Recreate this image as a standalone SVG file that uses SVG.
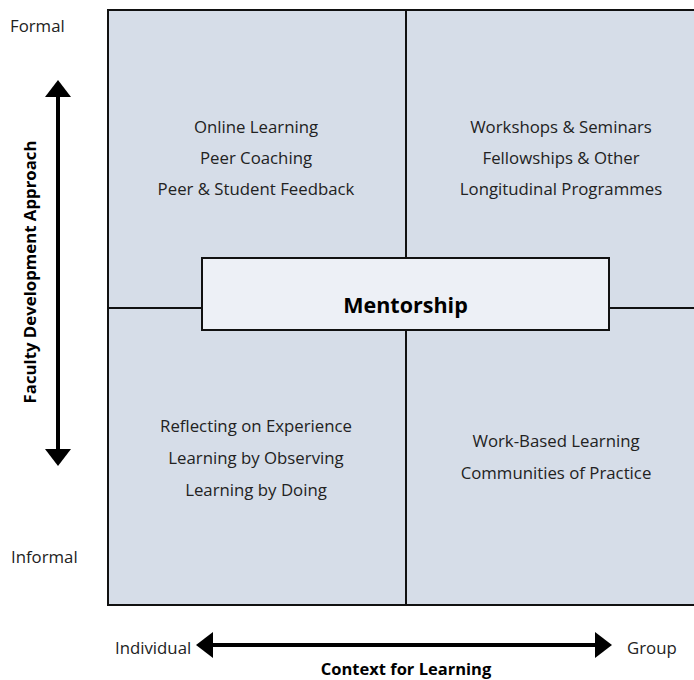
<svg xmlns="http://www.w3.org/2000/svg" width="694" height="680" viewBox="0 0 694 680">
<style>
text{font-family:"Open Sans","Noto Sans","Liberation Sans",sans-serif;fill:#222;font-size:16.8px}
.c{text-anchor:middle}
.b{font-weight:bold;fill:#000}
.ln{stroke:#111;stroke-width:2;fill:none}
.ax{stroke:#000;stroke-width:4;fill:none}
.ah{fill:#000}
</style>
<rect width="694" height="680" fill="#fff"/>
<g id="quadrants">
<rect x="108" y="10" width="600" height="595" fill="#d6dde8"/>
<path class="ln" d="M708 10H108V605H708"/>
<line class="ln" x1="406" y1="10" x2="406" y2="605"/>
<line class="ln" x1="108" y1="308" x2="694" y2="308"/>
</g>
<g id="q-tl">
<text class="c" x="256" y="133">Online Learning</text>
<text class="c" x="256" y="164">Peer Coaching</text>
<text class="c" x="256" y="195">Peer &amp; Student Feedback</text>
</g>
<g id="q-tr">
<text class="c" x="561" y="133">Workshops &amp; Seminars</text>
<text class="c" x="561" y="164">Fellowships &amp; Other</text>
<text class="c" x="561" y="195">Longitudinal Programmes</text>
</g>
<g id="q-bl">
<text class="c" x="256" y="432">Reflecting on Experience</text>
<text class="c" x="256" y="464">Learning by Observing</text>
<text class="c" x="256" y="496">Learning by Doing</text>
</g>
<g id="q-br">
<text class="c" x="556" y="447">Work-Based Learning</text>
<text class="c" x="556" y="479">Communities of Practice</text>
</g>
<g id="mentorship">
<rect x="202" y="258" width="407" height="72" fill="#edf0f6" stroke="#111" stroke-width="2"/>
<text class="c b" x="405.5" y="313" style="font-size:21.5px">Mentorship</text>
</g>
<g id="axes">
<line class="ax" x1="58" y1="94" x2="58" y2="452"/>
<polygon class="ah" points="58,80 45,97 71,97"/>
<polygon class="ah" points="58,466 45,449 71,449"/>
<line class="ax" x1="210" y1="645" x2="598" y2="645"/>
<polygon class="ah" points="196,645 213,632 213,658"/>
<polygon class="ah" points="612,645 595,632 595,658"/>
</g>
<g id="labels">
<text x="10" y="32">Formal</text>
<text x="11" y="563">Informal</text>
<text x="115" y="654">Individual</text>
<text x="627" y="654">Group</text>
<text class="c b" x="406" y="675" style="font-size:16.5px">Context for Learning</text>
<text class="c b" transform="translate(36 272) rotate(-90)">Faculty Development Approach</text>
</g>
</svg>
